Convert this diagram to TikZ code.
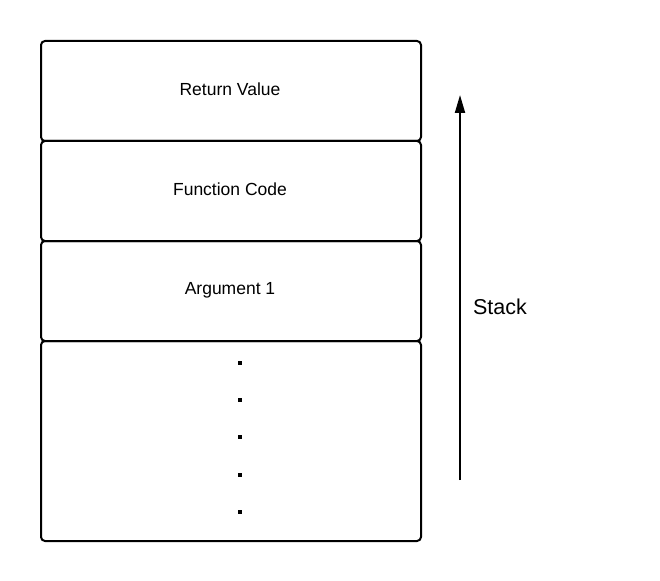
\documentclass[tikz,border=0pt]{standalone}
\usepackage{fontspec}
\setmainfont{Liberation Sans}
\usetikzlibrary{arrows.meta}
\begin{document}
\begin{tikzpicture}[x=1pt,y=-1pt,
  cell/.style={draw=black,line width=2pt,rounded corners=4pt,minimum width=380pt,inner sep=0pt,anchor=north west},
  celltext/.style={font=\fontsize{17.5}{20}\selectfont},
  dotmark/.style={fill=black,minimum size=4pt,inner sep=0pt},
  stackarrow/.style={line width=2pt,-{Triangle[width=10pt,length=18pt]}}]
\useasboundingbox (0,0) rectangle (660,580);
\node[cell,minimum height=100pt] (rv) at (40,40) {};
\node[cell,minimum height=100pt] (fc) at (40,140) {};
\node[cell,minimum height=100pt] (a1) at (40,240) {};
\node[cell,minimum height=200pt] (rest) at (40,340) {};
\node[celltext] (trv) at (230,89) {Return Value};
\node[celltext] (tfc) at (230,189) {Function Code};
\node[celltext] (ta1) at (230,290) {Argument 1};
\node[dotmark] (d1) at (240,363) {};
\node[dotmark] (d2) at (240,400) {};
\node[dotmark] (d3) at (240,437) {};
\node[dotmark] (d4) at (240,475) {};
\node[dotmark] (d5) at (240,512) {};
\coordinate (abot) at (460,480);
\coordinate (atop) at (460,95);
\draw[stackarrow] (abot) -- (atop);
\node[font=\fontsize{21.5}{24}\selectfont] (st) at (500,307) {Stack};
\end{tikzpicture}
\end{document}
